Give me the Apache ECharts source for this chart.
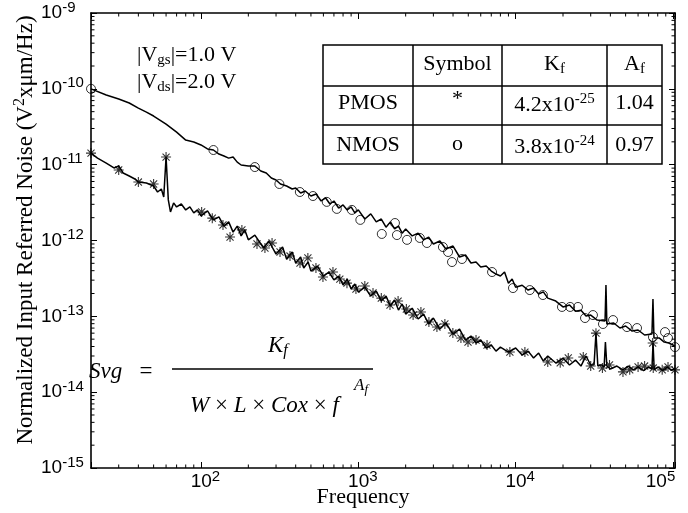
<!DOCTYPE html>
<html><head><meta charset="utf-8">
<script src="https://cdn.jsdelivr.net/npm/echarts@6/dist/echarts.min.js"></script>
<style>html,body{margin:0;padding:0;background:#fff}#c{width:688px;height:513px}</style>
</head><body><div id="c"></div>
<script>
// ---- axis ranges & ticks ----
const xMin = 20, xMax = 103000, yMin = 1e-15, yMax = 1e-9;
const minorMantissas = [2,3,4,5,6,7,8,9];
const xMinorDecades = [10,100,1000,10000];
const yMinorDecades = [1e-15,1e-14,1e-13,1e-12,1e-11,1e-10];
const xMinorStart = [3,4,5,6,7,8,9]; // first decade starts at 20

// ---- NMOS (circles, upper curve) ----
const nmosFreq = [20,25,30,35,40,45,50,60,70,80,90,100,110,120,130,140,150,160,170,180,200,220,240,260,280,300,320,350,380,400,430,460,500,540,580,620,660,700,750,800,850,900,950,1000,1100,1200,1300,1400,1500,1600,1700,1800,1900,2000,2200,2400,2600,2800,3000,3300,3600,4000,4400,4800,5200,5600,6000,6500,7000,7500,8000,8500,9000,9500,10000,11000,12000,13000,14000,15000,16000,18000,20000,22000,24000,26000,28000,30000,33000,37000,37500,38000,42000,46000,50000,55000,60000,66000,73500,74600,75700,82000,88000,94000,103000];
const nmosNoise = [1.0e-10,8.28e-11,7.34e-11,6.5e-11,5.58e-11,4.94e-11,4.38e-11,3.43e-11,2.69e-11,2.11e-11,1.99e-11,1.82e-11,1.61e-11,1.56e-11,1.38e-11,1.30e-11,1.22e-11,1.26e-11,1.08e-11,9.9e-12,9.6e-12,9.6e-12,8.26e-12,7.77e-12,6.68e-12,6.28e-12,5.56e-12,5.23e-12,4.78e-12,4.93e-12,4.23e-12,4.5e-12,3.86e-12,4.1e-12,3.32e-12,3.64e-12,3.03e-12,3.32e-12,2.68e-12,2.94e-12,2.53e-12,2.77e-12,2.31e-12,2.53e-12,1.92e-12,2.24e-12,1.76e-12,1.92e-12,1.50e-12,1.76e-12,1.42e-12,1.55e-12,1.25e-12,1.42e-12,1.15e-12,1.25e-12,1.02e-12,1.11e-12,8.99e-13,9.85e-13,7.72e-13,8.46e-13,6.06e-13,6.43e-13,5.05e-13,5.2e-13,4.47e-13,4.61e-13,3.96e-13,3.61e-13,3.4e-13,3.84e-13,2.74e-13,3.1e-13,2.42e-13,2.57e-13,2.22e-13,2.36e-13,1.97e-13,2.1e-13,1.74e-13,1.59e-13,1.33e-13,1.41e-13,1.17e-13,1.2e-13,1.01e-13,1.04e-13,8.93e-14,8.67e-14,2.59e-13,7.92e-14,8.16e-14,7.01e-14,7.45e-14,6.4e-14,6.6e-14,5.67e-14,5.85e-14,1.69e-13,5.17e-14,5.17e-14,4.58e-14,4.45e-14,4.06e-14];
const nmosMarkFreq = [20,120,220,315,425,515,630,730,910,1030,1410,1710,1760,2040,2460,2730,3450,3720,3940,4560,7080,9620,12300,14900,19700,22200,24900,27600,31000,35900,41600,51000,59100,74600,89000,93000,103000];
const nmosMarkNoise = [1.0e-10,1.56e-11,9.3e-12,5.56e-12,4.36e-12,3.86e-12,3.23e-12,2.61e-12,2.53e-12,1.87e-12,1.22e-12,1.70e-12,1.18e-12,1.02e-12,1.08e-12,9.27e-13,8.2e-13,7.05e-13,5.2e-13,5.7e-13,3.84e-13,2.36e-13,2.22e-13,1.91e-13,1.33e-13,1.33e-13,1.33e-13,9.5e-14,1.04e-13,7.92e-14,8.93e-14,7.22e-14,7.01e-14,5.33e-14,6.2e-14,5.17e-14,3.93e-14];

// ---- PMOS (stars, lower curve) ----
const pmosFreq = [20,22,25,28,30,32,35,38,40,45,50,53,56,58,60,62,64,67,70,75,80,85,90,95,100,110,120,130,140,150,160,170,180,190,200,220,250,270,300,330,350,380,400,430,450,480,500,550,600,650,700,750,800,850,900,950,1000,1100,1200,1300,1400,1500,1600,1700,1800,1900,2000,2200,2400,2600,2800,3000,3300,3600,4000,4400,4800,5200,5600,6000,6500,7000,7500,8000,9000,10000,11000,12000,13000,14000,15000,16000,18000,20000,22000,24000,26000,28000,30000,31500,32400,33300,35000,36500,37200,38000,40000,44000,48000,52000,56000,60000,65000,70000,73500,74700,76000,80000,86000,92000,98000,103000];
const pmosNoise = [1.42e-11,1.22e-11,1.05e-11,9.05e-12,9.6e-12,7.77e-12,7.09e-12,6.47e-12,5.9e-12,5.73e-12,5.23e-12,4.36e-12,4.78e-12,3.75e-12,1.26e-11,3.43e-12,2.38e-12,3.13e-12,2.77e-12,3.03e-12,2.53e-12,2.77e-12,2.31e-12,2.53e-12,2.11e-12,2.46e-12,1.87e-12,2.05e-12,1.55e-12,1.76e-12,1.29e-12,1.55e-12,1.15e-12,1.38e-12,1.02e-12,1.18e-12,7.96e-13,9.85e-13,6.63e-13,8.2e-13,5.7e-13,7.05e-13,5.05e-13,6.06e-13,4.34e-13,5.2e-13,3.95e-13,4.6e-13,3.4e-13,3.84e-13,3.02e-13,3.4e-13,2.59e-13,3.1e-13,2.29e-13,2.67e-13,2.09e-13,2.42e-13,1.85e-13,2.16e-13,1.59e-13,1.85e-13,1.37e-13,1.64e-13,1.21e-13,1.46e-13,1.07e-13,1.28e-13,9.22e-14,1.07e-13,7.92e-14,9.5e-14,6.8e-14,8.16e-14,5.84e-14,6.8e-14,4.87e-14,5.5e-14,4.45e-14,4.87e-14,3.82e-14,4.18e-14,3.48e-14,3.93e-14,3.38e-14,3.82e-14,3.09e-14,3.48e-14,2.82e-14,3.28e-14,2.57e-14,3.0e-14,2.42e-14,2.82e-14,2.28e-14,2.65e-14,2.21e-14,3.0e-14,2.28e-14,2.3e-14,6.0e-14,2.21e-14,2.3e-14,2.15e-14,4.58e-14,2.21e-14,2.02e-14,2.21e-14,1.97e-14,2.21e-14,1.97e-14,2.15e-14,1.93e-14,2.15e-14,2.02e-14,4.45e-14,1.97e-14,2.15e-14,1.93e-14,2.15e-14,1.93e-14,2.08e-14];
const pmosMarkFreq = [20,30,40,50,60,101,118,138,153,182,227,255,283,318,368,426,478,538,596,690,763,847,966,1100,1240,1400,1590,1790,2020,2230,2500,2810,3160,3550,3990,4490,4980,5600,6580,9190,11450,16000,19200,21600,26900,30000,32400,35600,39500,48100,53100,60000,66000,74300,74900,85400,93000,103000];
const pmosMarkNoise = [1.42e-11,8.51e-12,5.9e-12,5.56e-12,1.26e-11,2.38e-12,1.97e-12,1.6e-12,1.11e-12,1.38e-12,8.99e-13,7.96e-13,9.27e-13,7.05e-13,6.24e-13,5.05e-13,5.88e-13,4.34e-13,3.3e-13,3.84e-13,3.1e-13,2.74e-13,2.29e-13,2.51e-13,2.03e-13,1.74e-13,1.41e-13,1.59e-13,1.25e-13,1.04e-13,1.14e-13,8.41e-14,7.22e-14,7.92e-14,6.02e-14,5.17e-14,4.58e-14,4.87e-14,4.18e-14,3.38e-14,3.38e-14,2.5e-14,2.44e-14,2.82e-14,2.91e-14,2.21e-14,6.0e-14,2.08e-14,2.28e-14,1.85e-14,1.97e-14,2.15e-14,2.21e-14,4.45e-14,2.08e-14,1.97e-14,2.15e-14,1.97e-14];

// ---- table texts ----
const tableDevices = ['PMOS','NMOS'];
const tableSymbols = ['*','o'];
const tableKfMantissa = ['4.2x10','3.8x10'];
const tableKfExponent = ['-25','-24'];
const tableAf = ['1.04','0.97'];

const SERIF = '"Liberation Serif", "Times New Roman", serif';
const SANS = '"Liberation Sans", Arial, sans-serif';

const xMinorTicks = [];
xMinorStart.forEach(m => xMinorTicks.push(m * 10));
xMinorDecades.slice(1).forEach(d => minorMantissas.forEach(m => xMinorTicks.push(m * d)));
const yMinorTicks = [];
yMinorDecades.forEach(d => minorMantissas.forEach(m => yMinorTicks.push(m * d)));

function pow10Exp(v) {
  const l = Math.log10(v), e = Math.round(l);
  return Math.abs(l - e) < 1e-6 ? e : null;
}

const chart = echarts.init(document.getElementById('c'), null, {renderer: 'canvas'});

const axisLineStyle = {color: '#000', width: 1.6};
function xAxisDef(pos, showLabel) {
  return {
    type: 'log', logBase: 10, min: xMin, max: xMax, position: pos,
    axisLine: {show: true, onZero: false, lineStyle: axisLineStyle},
    axisTick: {show: true, inside: true, length: 6, lineStyle: {color: '#000', width: 1}},
    splitLine: {show: false}, minorTick: {show: false},
    axisLabel: showLabel ? {
      show: true, margin: 1, color: '#000',
      formatter: v => { const e = pow10Exp(v); if (e === null) return '';
        return e === 5 ? '{b5|10}{s5|' + e + '}' : '{b|10}{s|' + e + '}'; },
      rich: {
        b: {fontSize: 19, fontFamily: SANS, color: '#000', lineHeight: 26, padding: [0,0,0,9]},
        s: {fontSize: 15, fontFamily: SANS, color: '#000', lineHeight: 12, verticalAlign: 'top'},
        b5: {fontSize: 19, fontFamily: SANS, color: '#000', lineHeight: 26},
        s5: {fontSize: 15, fontFamily: SANS, color: '#000', lineHeight: 12, verticalAlign: 'top', padding: [0,25,0,0]}
      }
    } : {show: false}
  };
}
function yAxisDef(pos, showLabel) {
  return {
    type: 'log', logBase: 10, min: yMin, max: yMax, position: pos,
    axisLine: {show: true, onZero: false, lineStyle: axisLineStyle},
    axisTick: {show: true, inside: true, length: 6, lineStyle: {color: '#000', width: 1}},
    splitLine: {show: false}, minorTick: {show: false},
    axisLabel: showLabel ? {
      show: true, margin: 50, align: 'left', color: '#000',
      formatter: v => { const e = pow10Exp(v); if (e === null) return '';
        return '{b|10}{s|' + e + '}'; },
      rich: {
        b: {fontSize: 19, fontFamily: SANS, color: '#000', lineHeight: 26},
        s: {fontSize: 15, fontFamily: SANS, color: '#000', lineHeight: 12, verticalAlign: 'top'}
      }
    } : {show: false}
  };
}

function minorTickRender(dir) {
  return function (params, api) {
    const cs = params.coordSys;
    const len = 3.5;
    const st = {stroke: '#000', lineWidth: 1};
    if (dir === 'x') {
      const px = api.coord([api.value(0), 1e-12])[0];
      const yb = cs.y + cs.height, yt = cs.y;
      return {type: 'group', children: [
        {type: 'line', shape: {x1: px, y1: yb, x2: px, y2: yb - len}, style: st},
        {type: 'line', shape: {x1: px, y1: yt, x2: px, y2: yt + len}, style: st}
      ]};
    } else {
      const py = api.coord([1000, api.value(1)])[1];
      const xl = cs.x, xr = cs.x + cs.width;
      return {type: 'group', children: [
        {type: 'line', shape: {x1: xl, y1: py, x2: xl + len, y2: py}, style: st},
        {type: 'line', shape: {x1: xr, y1: py, x2: xr - len, y2: py}, style: st}
      ]};
    }
  };
}

const starPath = 'path://M5 0 L5 10 M0 5 L10 5 M1.46 1.46 L8.54 8.54 M1.46 8.54 L8.54 1.46';

function txt(x, y, text, rich, align, extra) {
  return Object.assign({
    type: 'text', x: x, y: y, silent: true, z: 100,
    style: {text: text, fill: '#000', font: '22px ' + SERIF,
      textAlign: align || 'center', textVerticalAlign: 'middle',
      align: align || 'center', verticalAlign: 'middle', rich: rich || {}}
  }, extra || {});
}
const richSerif = {
  n: {fontSize: 22, fontFamily: SERIF, lineHeight: 26, fill: '#000'},
  sub: {fontSize: 15, fontFamily: SERIF, lineHeight: 14, verticalAlign: 'bottom', fill: '#000'},
  sup: {fontSize: 15, fontFamily: SERIF, lineHeight: 14, verticalAlign: 'top', fill: '#000'}
};
const richAxisTitle = {
  n: {fontSize: 23, fontFamily: SERIF, lineHeight: 28, fill: '#000'},
  sup: {fontSize: 16, fontFamily: SERIF, lineHeight: 14, verticalAlign: 'top', fill: '#000'}
};
const richItalic = {
  i: {fontSize: 23, fontFamily: SERIF, fontStyle: 'italic', lineHeight: 26, fill: '#000'},
  r: {fontSize: 23, fontFamily: SERIF, lineHeight: 26, fill: '#000'},
  isub: {fontSize: 16, fontFamily: SERIF, fontStyle: 'italic', lineHeight: 15, verticalAlign: 'bottom', fill: '#000'},
  ii: {fontSize: 17, fontFamily: SERIF, fontStyle: 'italic', lineHeight: 20, fill: '#000'},
  iisub: {fontSize: 13, fontFamily: SERIF, fontStyle: 'italic', lineHeight: 12, verticalAlign: 'bottom', fill: '#000'}
};

// table geometry
const tX = [323, 413, 502, 607, 662];
const tY = [45, 86, 125, 164];
const lineSt = {stroke: '#000', lineWidth: 1.5};
const graphics = [];
graphics.push({type: 'rect', shape: {x: tX[0], y: tY[0], width: tX[4]-tX[0], height: tY[3]-tY[0]},
  style: {fill: '#fff', stroke: '#000', lineWidth: 1.5}, z: 90, silent: true});
[tY[1], tY[2]].forEach(y => graphics.push({type: 'line', shape: {x1: tX[0], y1: y, x2: tX[4], y2: y}, style: lineSt, z: 91, silent: true}));
[tX[1], tX[2], tX[3]].forEach(x => graphics.push({type: 'line', shape: {x1: x, y1: tY[0], x2: x, y2: tY[3]}, style: lineSt, z: 91, silent: true}));
const colC = [368, 457.5, 554.5, 634.5];
graphics.push(txt(colC[1], 64, '{n|Symbol}', richSerif));
graphics.push(txt(colC[2], 64, '{n|K}{sub|f}', richSerif));
graphics.push(txt(colC[3], 64, '{n|A}{sub|f}', richSerif));
const rowC = [103, 145];
tableDevices.forEach((d, i) => {
  graphics.push(txt(colC[0], rowC[i], '{n|' + d + '}', richSerif));
  graphics.push(txt(colC[1], rowC[i] - (i === 0 ? 4 : 1), '{n|' + tableSymbols[i] + '}', richSerif));
  graphics.push(txt(colC[2], rowC[i] + 2, '{n|' + tableKfMantissa[i] + '}{sup|' + tableKfExponent[i] + '}', richSerif));
  graphics.push(txt(colC[3], rowC[i], '{n|' + tableAf[i] + '}', richSerif));
});
// bias annotation
graphics.push(txt(137, 55, '{n||V}{sub|gs}{n||=1.0 V}', richSerif, 'left'));
graphics.push(txt(137, 82, '{n||V}{sub|ds}{n||=2.0 V}', richSerif, 'left'));
// formula
graphics.push(txt(89, 372, '{i|Svg}{r|   =}', richItalic, 'left'));
graphics.push({type: 'line', shape: {x1: 172, y1: 369, x2: 373, y2: 369}, style: lineSt, z: 91, silent: true});
graphics.push(txt(268, 346, '{i|K}{isub|f}', richItalic, 'left'));
graphics.push(txt(190, 406, '{i|W}{r| × }{i|L}{r| × }{i|Cox}{r| × }{i|f}', richItalic, 'left'));
graphics.push(txt(354, 386, '{ii|A}{iisub|f}', richItalic, 'left'));
// axis titles
graphics.push(txt(363, 497, '{n|Frequency}', richSerif));
graphics.push(txt(26, 230, '{n|Normalized Input Referred Noise (V}{sup|2}{n|xμm/Hz)}', richAxisTitle, 'center', {rotation: Math.PI / 2}));

const option = {
  backgroundColor: '#fff',
  animation: false,
  grid: {left: 91, right: 13, top: 13, bottom: 45, containLabel: false, outerBoundsMode: 'none'},
  xAxis: [xAxisDef('bottom', true), xAxisDef('top', false)],
  yAxis: [yAxisDef('left', true), yAxisDef('right', false)],
  series: [
    {type: 'line', name: 'NMOS', xAxisIndex: 0, yAxisIndex: 0, data: nmosFreq.map((f, i) => [f, nmosNoise[i]]),
      symbol: 'none', silent: true, lineStyle: {color: '#000', width: 1.5}, z: 3},
    {type: 'line', name: 'PMOS', xAxisIndex: 0, yAxisIndex: 0, data: pmosFreq.map((f, i) => [f, pmosNoise[i]]),
      symbol: 'none', silent: true, lineStyle: {color: '#000', width: 1.5}, z: 3},
    {type: 'scatter', name: 'NMOS markers', data: nmosMarkFreq.map((f, i) => [f, nmosMarkNoise[i]]),
      symbol: 'circle', symbolSize: 9, silent: true, z: 4,
      itemStyle: {color: 'rgba(0,0,0,0)', borderColor: '#000', borderWidth: 1}},
    {type: 'scatter', name: 'PMOS markers', data: pmosMarkFreq.map((f, i) => [f, pmosMarkNoise[i]]),
      symbol: starPath, symbolSize: 10, silent: true, z: 4,
      itemStyle: {color: 'none', borderColor: '#000', borderWidth: 1.1}},
    {type: 'custom', name: 'x minor ticks', data: xMinorTicks.map(v => [v, 1e-12]), renderItem: minorTickRender('x'), silent: true, z: 5},
    {type: 'custom', name: 'y minor ticks', data: yMinorTicks.map(v => [1000, v]), renderItem: minorTickRender('y'), silent: true, z: 5}
  ],
  graphic: {elements: graphics}
};
chart.setOption(option);
</script>
</body></html>
